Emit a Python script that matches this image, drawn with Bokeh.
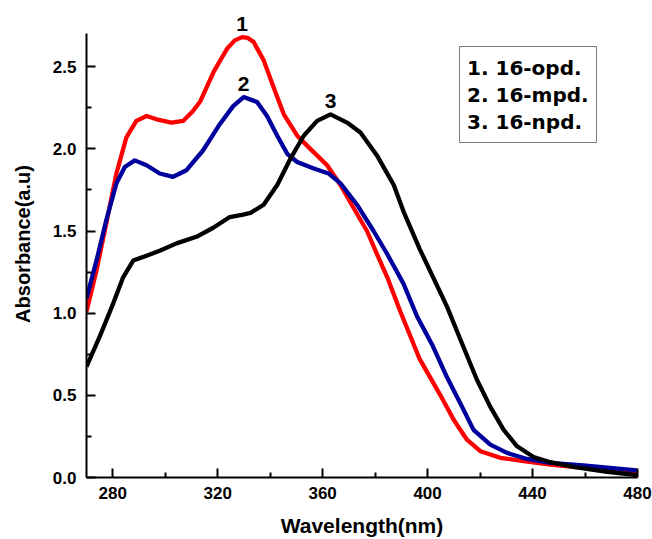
from bokeh.plotting import figure
from bokeh.models import Range1d, FixedTicker, Legend, LegendItem, ColumnDataSource, NumeralTickFormatter
from bokeh.core.properties import value
from bokeh.embed import file_html
from bokeh.resources import INLINE

# ---- data ----
wl_opd = [270, 273.8, 277.6, 281.4, 285.2, 289, 292.9, 296.7, 302.4, 306.8, 310.6, 313.4, 318.5,
          323.6, 326.5, 329.3, 331.5, 333.7, 337.5, 341.4, 345.2, 350.3, 355.3, 361.7, 366.8, 371.8,
          376.9, 380.7, 384.6, 389.6, 397, 404.9, 410, 415, 420.1, 427.7, 436.6, 446.8, 459.4,
          469.5, 479.8]
abs_opd = [1.01, 1.26, 1.55, 1.85, 2.07, 2.17, 2.20, 2.18, 2.16, 2.17, 2.23, 2.29, 2.47,
           2.61, 2.66, 2.68, 2.675, 2.65, 2.54, 2.37, 2.21, 2.08, 2.00, 1.90, 1.78, 1.64,
           1.50, 1.36, 1.22, 1.01, 0.72, 0.50, 0.35, 0.23, 0.16, 0.12, 0.10, 0.079, 0.059,
           0.042, 0.024]

wl_mpd = [270, 273.8, 277.6, 281.4, 284.6, 288.4, 292.9, 297.9, 303, 308.1, 314.4, 320.8, 325.9,
          329.9, 335, 338.8, 342.7, 346.5, 350.3, 356.6, 362.3, 366.8, 373.1, 379.4, 384.6, 390.8,
          396, 402, 407.4, 412.5, 417.5, 423.9, 430.3, 437.9, 446.8, 459.4, 469.5, 479.8]
abs_mpd = [1.09, 1.32, 1.57, 1.79, 1.89, 1.93, 1.90, 1.85, 1.83, 1.87, 1.99, 2.15, 2.26,
           2.315, 2.285, 2.20, 2.08, 1.97, 1.92, 1.88, 1.85, 1.79, 1.66, 1.50, 1.36, 1.18,
           0.98, 0.80, 0.61, 0.45, 0.29, 0.20, 0.15, 0.113, 0.089, 0.073, 0.058, 0.044]

wl_npd = [270, 275.1, 280.2, 284, 287.8, 292.9, 297.9, 304.3, 311.9, 318.3, 324.6, 329.7, 332.5,
          337.5, 342.7, 347.7, 352.8, 357.9, 363, 369.3, 374.4, 380.7, 387.1, 390.8, 397, 407.4,
          413, 418.8, 423.9, 429, 434.1, 440.4, 446.8, 455.6, 468.4, 479.8]
abs_npd = [0.675, 0.86, 1.06, 1.22, 1.32, 1.35, 1.38, 1.425, 1.465, 1.52, 1.585, 1.60, 1.61,
           1.66, 1.78, 1.94, 2.08, 2.17, 2.21, 2.16, 2.10, 1.96, 1.78, 1.62, 1.39, 1.04,
           0.82, 0.595, 0.43, 0.29, 0.19, 0.125, 0.093, 0.065, 0.035, 0.014]

series_names = ["1. 16-opd.", "2. 16-mpd.", "3. 16-npd."]
peak_tags = ["1", "2", "3"]
series_colors = ["#FF0000", "#00009C", "#000000"]

x_major = [280, 320, 360, 400, 440, 480]
x_minor = [300, 340, 380, 420, 460]
y_major = [0.0, 0.5, 1.0, 1.5, 2.0, 2.5]
y_minor = [0.25, 0.75, 1.25, 1.75, 2.25]

FONT = "Liberation Sans"

p = figure(width=652, height=539, output_backend="svg", toolbar_location=None,
           x_range=Range1d(270, 480), y_range=Range1d(0, 2.842),
           min_border_left=86, min_border_right=15, min_border_top=10, min_border_bottom=61)
p.outline_line_color = None
p.grid.visible = False
p.background_fill_color = "white"
p.border_fill_color = "white"

all_x = [wl_opd, wl_mpd, wl_npd]
all_y = [abs_opd, abs_mpd, abs_npd]
renderers = []
for xs, ys, col in zip(all_x, all_y, series_colors):
    r = p.line(xs, ys, line_color=col, line_width=4.3, line_join="round")
    renderers.append(r)

# peak number labels, placed above each curve's maximum
px, py, pt = [], [], []
for xs, ys, tag in zip(all_x, all_y, peak_tags):
    i = max(range(len(ys)), key=lambda k: ys[k])
    px.append(xs[i]); py.append(ys[i]); pt.append(tag)
src = ColumnDataSource(dict(x=px, y=py, t=pt))
p.text(x="x", y="y", text="t", source=src, text_font=value(FONT), text_font_style="bold",
       text_font_size="21px", text_align="center", text_baseline="middle", y_offset=-13,
       text_color="black")

for ax in (p.xaxis[0], p.yaxis[0]):
    ax.axis_line_width = 2
    ax.major_tick_line_width = 2
    ax.minor_tick_line_width = 2
    ax.major_tick_in = 9
    ax.major_tick_out = 0
    ax.minor_tick_in = 5
    ax.minor_tick_out = 0
    ax.major_label_text_font = FONT
    ax.major_label_text_font_style = "bold"
    ax.major_label_text_font_size = "17px"
    ax.major_label_text_color = "black"
    ax.axis_label_text_font = FONT
    ax.axis_label_text_font_style = "bold"
    ax.axis_label_text_color = "black"

p.xaxis.ticker = FixedTicker(ticks=x_major, minor_ticks=x_minor)
p.yaxis.ticker = FixedTicker(ticks=y_major, minor_ticks=y_minor)
p.yaxis.formatter = NumeralTickFormatter(format="0.0")
p.yaxis.bounds = (0, 2.7)
p.xaxis.axis_label = "Wavelength(nm)"
p.yaxis.axis_label = "Absorbance(a.u)"
p.xaxis.axis_label_text_font_size = "21px"
p.yaxis.axis_label_text_font_size = "20px"
p.xaxis.major_label_standoff = 9
p.xaxis.axis_label_standoff = 12
p.yaxis.major_label_standoff = 10
p.yaxis.axis_label_standoff = 16

legend = Legend(items=[LegendItem(label=n, renderers=[r]) for n, r in zip(series_names, renderers)],
                location=(373, 334), orientation="vertical")
legend.glyph_width = 0
legend.glyph_height = 27
legend.label_height = 27
legend.label_standoff = 0
legend.padding = 7
legend.spacing = 0
legend.margin = 0
legend.border_line_color = "black"
legend.border_line_width = 1.5
legend.background_fill_alpha = 1
legend.label_text_font = "DejaVu Sans"
legend.label_text_font_style = "bold"
legend.label_text_font_size = "20px"
legend.label_text_color = "black"
p.add_layout(legend)

open("out.html", "w").write(file_html(p, INLINE))
